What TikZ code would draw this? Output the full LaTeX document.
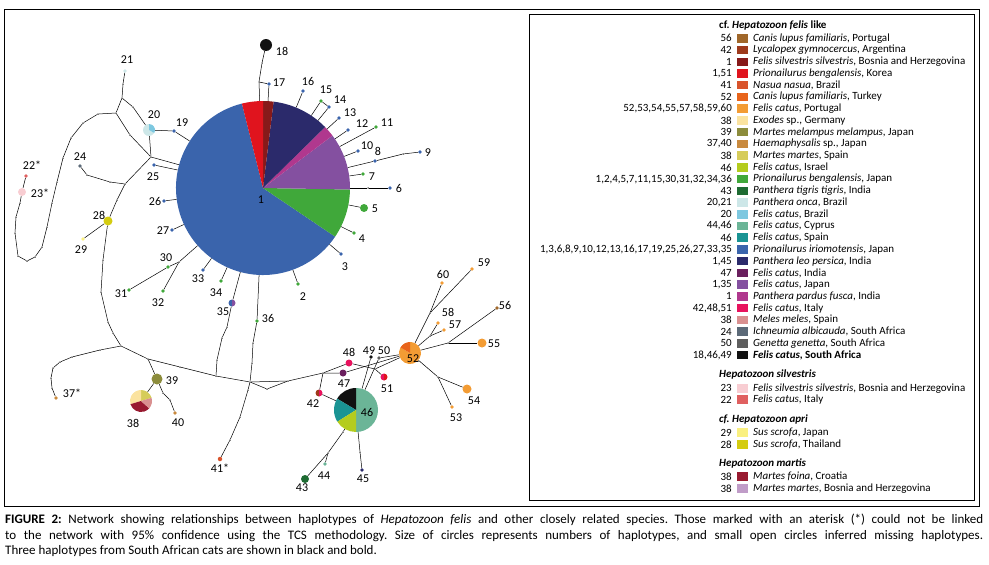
\documentclass[tikz,border=0pt]{standalone}
\usepackage{fontspec}
\setmainfont{Carlito}
\frenchspacing
% colours of the legend
\definecolor{cCanisPt}{HTML}{A0672A}
\definecolor{cLycalopex}{HTML}{9E3A1C}
\definecolor{cFssBos}{HTML}{871A1A}
\definecolor{cPbKorea}{HTML}{E0141E}
\definecolor{cNasua}{HTML}{D9542C}
\definecolor{cCanisTr}{HTML}{E8641B}
\definecolor{cFcPt}{HTML}{F39C34}
\definecolor{cExodes}{HTML}{FBE3A0}
\definecolor{cMelampus}{HTML}{8C8C3C}
\definecolor{cHaema}{HTML}{C98A3E}
\definecolor{cMmSp}{HTML}{D6CC5A}
\definecolor{cFcIsr}{HTML}{B4CC1E}
\definecolor{cPbJp}{HTML}{40A83A}
\definecolor{cTigris}{HTML}{1E6B32}
\definecolor{cOnca}{HTML}{CDE7E8}
\definecolor{cFcBr}{HTML}{7DC8E0}
\definecolor{cFcCy}{HTML}{6BB597}
\definecolor{cFcEs}{HTML}{1A9494}
\definecolor{cIriomot}{HTML}{3A64AC}
\definecolor{cLeo}{HTML}{2B2A6B}
\definecolor{cFcIn}{HTML}{6A1F5E}
\definecolor{cFcJp}{HTML}{8450A0}
\definecolor{cPardus}{HTML}{B0388E}
\definecolor{cFcIt}{HTML}{E8135E}
\definecolor{cMeles}{HTML}{D99090}
\definecolor{cIchneumia}{HTML}{5C6A78}
\definecolor{cGenetta}{HTML}{5E5E5E}
\definecolor{cFcSA}{HTML}{111111}
\definecolor{cFssBosB}{HTML}{F8CDD2}
\definecolor{cFcItB}{HTML}{E06060}
\definecolor{cSusJp}{HTML}{FAF080}
\definecolor{cSusTh}{HTML}{D4CC10}
\definecolor{cFoina}{HTML}{981A30}
\definecolor{cMmBos}{HTML}{C09CC8}
% one slice of a pie: centre node, radius, from, to (degrees), colour
\newcommand{\pieslice}[5]{%
  \fill[#5] (#1.center) -- ++({-(#3)}:#2) arc[start angle={-(#3)}, end angle={-(#4)}, radius=#2] -- cycle;}
\begin{document}
\begin{tikzpicture}[x=1pt, y=-1pt,
    hap/.style={circle, inner sep=0pt, minimum size=3.6pt},
    pie/.style={circle, inner sep=0pt},
    miss/.style={circle, fill=black, inner sep=0pt, minimum size=1.5pt},
    num/.style={inner sep=0pt, font=\fontsize{12}{12}\selectfont},
    link/.style={draw=black, line width=0.5pt},
    key/.style={inner sep=0pt, minimum width=11pt, minimum height=8.5pt},
    keytext/.style={inner sep=0pt, anchor=west, font=\fontsize{11}{11}\selectfont},
    keynum/.style={inner sep=0pt, anchor=east, font=\fontsize{11}{11}\selectfont},
    keyhead/.style={inner sep=0pt, anchor=west, font=\fontsize{11}{11}\selectfont\bfseries},
    capline/.style={anchor=west, inner sep=0pt, font=\fontsize{13}{13}\selectfont}]
    \useasboundingbox (0,0) rectangle (989,565);
    % the frames
    \draw[line width=0.8pt] (4.7,9.3) rectangle (979,506);
    \draw[line width=0.8pt, fill=white] (529,14.3) rectangle (974,500.7);

    % the big pie of haplotype 1
    \node[pie, minimum size=174pt] (hap1) at (263,188) {};
    \pieslice{hap1}{87}{104}{326}{cIriomot}
    \pieslice{hap1}{87}{-34}{-1}{cPbJp}
    \pieslice{hap1}{87}{-1}{37}{cFcJp}
    \pieslice{hap1}{87}{37}{44.5}{cPardus}
    \pieslice{hap1}{87}{44.5}{83}{cLeo}
    \pieslice{hap1}{87}{83}{90}{cFssBos}
    \pieslice{hap1}{87}{90}{104}{cPbKorea}
    % the other pies
    \node[pie, minimum size=12pt] (hap20) at (149,130) {};
    \pieslice{hap20}{6}{90}{330}{cOnca}
    \pieslice{hap20}{6}{-30}{90}{cFcBr}
    \node[pie, minimum size=7pt] (hap35) at (232,303) {};
    \pieslice{hap35}{3.5}{90}{270}{cIriomot}
    \pieslice{hap35}{3.5}{-90}{90}{cFcJp}
    \node[pie, minimum size=22pt] (hap38) at (141,401) {};
    \pieslice{hap38}{11}{17}{90}{cMmSp}
    \pieslice{hap38}{11}{90}{197}{cExodes}
    \pieslice{hap38}{11}{197}{318}{cFoina}
    \pieslice{hap38}{11}{318}{377}{cMeles}
    \node[pie, minimum size=7pt] (hap42) at (319,393) {};
    \pieslice{hap42}{3.5}{90}{270}{cLycalopex}
    \pieslice{hap42}{3.5}{-90}{90}{cFcIt}
    \node[pie, minimum size=44pt] (hap46) at (356,410) {};
    \pieslice{hap46}{22}{-90}{90}{cFcCy}
    \pieslice{hap46}{22}{90}{149}{cFcSA}
    \pieslice{hap46}{22}{149}{212}{cFcEs}
    \pieslice{hap46}{22}{212}{270}{cFcIsr}
    \node[pie, minimum size=7pt] (hap51) at (384,377) {};
    \pieslice{hap51}{3.5}{90}{270}{cFcIt}
    \pieslice{hap51}{3.5}{-90}{90}{cPbKorea}
    \node[pie, minimum size=22pt] (hap52) at (410,353) {};
    \pieslice{hap52}{11}{150}{450}{cFcPt}
    \pieslice{hap52}{11}{90}{150}{cCanisTr}

    % the single haplotypes
    \node[hap, fill=cPbJp] (hap2) at (298,284) {};
    \node[hap, fill=cIriomot] (hap3) at (341,254) {};
    \node[hap, fill=cPbJp] (hap4) at (354,233) {};
    \node[hap, fill=cPbJp, minimum size=8pt] (hap5) at (364,208) {};
    \node[hap, fill=cIriomot] (hap6) at (390,188) {};
    \node[hap, fill=cPbJp] (hap7) at (363,174) {};
    \node[hap, fill=cIriomot] (hap8) at (375,161) {};
    \node[hap, fill=cIriomot] (hap9) at (420,152) {};
    \node[hap, fill=cIriomot] (hap10) at (358,151) {};
    \node[hap, fill=cPbJp] (hap11) at (376,127) {};
    \node[hap, fill=cIriomot] (hap12) at (348,130) {};
    \node[hap, fill=cIriomot] (hap13) at (339,118) {};
    \node[hap, fill=cIriomot] (hap14) at (329,107) {};
    \node[hap, fill=cPbJp] (hap15) at (321,101) {};
    \node[hap, fill=cIriomot] (hap16) at (303,91) {};
    \node[hap, fill=cIriomot] (hap17) at (269,84) {};
    \node[hap, fill=cFcSA, minimum size=12pt] (hap18) at (266,45) {};
    \node[hap, fill=cIriomot] (hap19) at (174,131) {};
    \node[hap, fill=cOnca] (hap21) at (125,71) {};
    \node[hap, fill=cFcItB] (hap22) at (26,176) {};
    \node[hap, fill=cFssBosB, minimum size=8pt] (hap23) at (22,192) {};
    \node[hap, fill=cIchneumia] (hap24) at (80,166) {};
    \node[hap, fill=cIriomot] (hap25) at (154,165) {};
    \node[hap, fill=cIriomot] (hap26) at (164,201) {};
    \node[hap, fill=cIriomot] (hap27) at (172,230) {};
    \node[hap, fill=cSusTh, minimum size=9pt] (hap28) at (108,221) {};
    \node[hap, fill=cSusJp] (hap29) at (83,239) {};
    \node[hap, fill=cPbJp] (hap30) at (168,267) {};
    \node[hap, fill=cPbJp] (hap31) at (129,290) {};
    \node[hap, fill=cPbJp] (hap32) at (163,291) {};
    \node[hap, fill=cIriomot] (hap33) at (203,270) {};
    \node[hap, fill=cPbJp] (hap34) at (221,281) {};
    \node[hap, fill=cPbJp] (hap36) at (257,321) {};
    \node[hap, fill=cHaema] (hap37) at (56,398) {};
    \node[hap, fill=cMelampus, minimum size=11pt] (hap39) at (157,379) {};
    \node[hap, fill=cHaema] (hap40) at (175,413) {};
    \node[hap, fill=cNasua, minimum size=4.5pt] (hap41) at (220,459) {};
    \node[hap, fill=cTigris, minimum size=8pt] (hap43) at (305,479) {};
    \node[hap, fill=cFcCy] (hap44) at (325,464) {};
    \node[hap, fill=cLeo] (hap45) at (362,470) {};
    \node[hap, fill=cFcIn, minimum size=7pt] (hap47) at (343,373) {};
    \node[hap, fill=cFcIt, minimum size=7pt] (hap48) at (349,363) {};
    \node[hap, fill=cFcSA] (hap49) at (371,357) {};
    \node[hap, fill=cGenetta] (hap50) at (379,358) {};
    \node[hap, fill=cFcPt] (hap53) at (452,407) {};
    \node[hap, fill=cFcPt, minimum size=9pt] (hap54) at (467,389) {};
    \node[hap, fill=cFcPt, minimum size=9pt] (hap55) at (482,343) {};
    \node[hap, fill=cCanisPt] (hap56) at (497,308) {};
    \node[hap, fill=cFcPt] (hap57) at (444,330) {};
    \node[hap, fill=cFcPt] (hap58) at (438,323) {};
    \node[hap, fill=cFcPt] (hap59) at (472,269) {};
    \node[hap, fill=cFcPt] (hap60) at (442,283) {};

    % the missing haplotypes (junctions and steps)
    \foreach \n/\x/\y in {m1/123/84, j1/122/98, j2/116/113, m2/133/107,
        m3/98/114, m4/83/123, m5/71/138, m6/63/158, m7/57/182, m8/52/203,
        m9/47/227, m10/42/247, m11/35/257, m12/27/261, m13/18/256,
        m14/15/233, m15/16/217, m16/20/203,
        m17/130/135, j3/151/157, j4/125/184, m18/110/182, m19/87/175,
        m20/117/200, m21/103/260, m22/101/292, m23/108/322, m24/113/333,
        j5/121/346, m25/100/350, m26/72/357, m27/60/362, m28/53/368,
        m29/51/378, m30/52/388, j6/148/359, m31/163/393, m32/170/400,
        m33/180/367, j7/216/376, j8/250/382, m34/267/389, j10/288/381,
        j9/323/373, m35/227/327, m36/222/338, m37/217/360, m38/253/343,
        m39/252/363, m40/248/390, m41/240/417, m42/230/440,
        m43/262/63, j18/259/82, j30/179/262, m44/403/154, m45/368/188,
        m46/343/432, j12/328/453, m47/360/452, j11/375/369,
        j13/430/313, j14/430/336, j15/448/343, j16/438/377}
      \node[miss] (\n) at (\x,\y) {};

    % draw the links
    \draw[link] (hap21) -- (m1) -- (j1) -- (j2) -- (m3) -- (m4) -- (m5) -- (m6)
      -- (m7) -- (m8) -- (m9) -- (m10) -- (m11) -- (m12) -- (m13) -- (m14)
      -- (m15) -- (m16) -- (hap23) -- (hap22);
    \draw[link] (j1) -- (m2) -- (hap20) -- (j3);
    \draw[link] (j2) -- (m17) -- (j3) -- (hap1);
    \draw[link] (hap20) -- (hap19) -- (hap1);
    \draw[link] (j3) -- (j4) -- (m18) -- (m19) -- (hap24);
    \draw[link] (j4) -- (m20) -- (hap28) -- (hap29);
    \draw[link] (hap28) -- (m21) -- (m22) -- (m23) -- (m24) -- (j5) -- (m25)
      -- (m26) -- (m27) -- (m28) -- (m29) -- (m30) -- (hap37);
    \draw[link] (j5) -- (j6) -- (hap39) -- (hap38);
    \draw[link] (hap39) -- (m31) -- (m32) -- (hap40);
    \draw[link] (j6) -- (m33) -- (j7) -- (j8) -- (j10) -- (j9);
    \draw[link] (j8) -- (m34) -- (j10);
    \draw[link] (j8) -- (m40) -- (m41) -- (m42) -- (hap41);
    \draw[link] (hap1) -- (hap35) -- (m35) -- (m36) -- (m37) -- (j7);
    \draw[link] (hap1) -- (hap36) -- (m38) -- (m39) -- (j8);
    \draw[link] (hap1) -- (j30) -- (hap30) -- (hap31);
    \draw[link] (j30) -- (hap32);
    \foreach \h in {25,26,27,33,34,2,3,4,5,7,10,11,12,13,16}
      \draw[link] (hap\h) -- (hap1);
    \draw[link] (hap1) -- (m45) -- (hap6);
    \draw[link] (hap1) -- (hap8) -- (m44) -- (hap9);
    \draw[link] (hap1) -- (hap15) -- (hap14) -- (hap1);
    \draw[link] (hap1) -- (hap17) -- (j18) -- (m43) -- (hap18);
    \draw[link] (j18) -- (hap1);
    \draw[link] (j9) -- (hap47) -- (hap52);
    \draw[link] (j9) -- (hap48) -- (j11) -- (hap51);
    \draw[link] (j11) -- (hap52);
    \draw[link] (j9) -- (hap42) -- (hap46);
    \draw[link] (hap46) -- (hap49);
    \draw[link] (hap46) -- (hap50) -- (hap52);
    \draw[link] (hap46) -- (m46) -- (j12) -- (hap43);
    \draw[link] (j12) -- (hap44);
    \draw[link] (hap46) -- (m47) -- (hap45);
    \draw[link] (hap52) -- (j13) -- (hap60);
    \draw[link] (j13) -- (hap59);
    \draw[link] (hap52) -- (j14) -- (hap58);
    \draw[link] (j14) -- (hap57);
    \draw[link] (hap52) -- (j15) -- (hap56);
    \draw[link] (j15) -- (hap55);
    \draw[link] (hap52) -- (j16) -- (hap53);
    \draw[link] (j16) -- (hap54);

    % the numbers of the haplotypes
    \foreach \n/\t/\x/\y in {1/1/261/200, 2/2/303/297, 3/3/345/267, 4/4/362/239,
        5/5/375/209, 6/6/399/188, 7/7/372/177, 8/8/378/151, 9/9/428/153,
        10/10/367/146, 11/11/387/123, 12/12/362/124, 13/13/350/113,
        14/14/340/100, 15/15/326/90, 16/16/308/81, 17/17/279/83,
        18/18/282/51, 19/19/182/123, 20/20/154/115, 21/21/127/60,
        22/22*/32/165, 23/23*/40/193, 24/24/80/157, 25/25/153/177,
        26/26/155/201, 27/27/163/231, 28/28/99/215, 29/29/81/250,
        30/30/166/258, 31/31/121/294, 32/32/158/303, 33/33/198/279,
        34/34/216/293, 35/35/223/312, 36/36/268/318, 37/37*/72/393,
        38/38/133/423, 39/39/172/381, 40/40/178/423, 41/41*/220/468,
        42/42/313/404, 43/43/302/488, 44/44/324/476, 45/45/363/479,
        46/46/367/412, 47/47/344/384, 48/48/349/352, 49/49/369/351,
        50/50/384/351, 51/51/387/389, 52/52/413/359, 53/53/456/418,
        54/54/474/401, 55/55/494/344, 56/56/505/305, 57/57/455/325,
        58/58/448/312, 59/59/484/263, 60/60/443/274}
      \node[num] (lab\n) at (\x,\y) {\t};

    % the legend
    \node[keyhead] (head1) at (719,26) {cf. \textit{Hepatozoon felis} like};
    \foreach \k/\c/\t [count=\i from 0] in {
        56/cCanisPt/{\textit{Canis lupus familiaris}, Portugal},
        42/cLycalopex/{\textit{Lycalopex gymnocercus}, Argentina},
        1/cFssBos/{\textit{Felis silvestris silvestris}, Bosnia and Herzegovina},
        {1,51}/cPbKorea/{\textit{Prionailurus bengalensis}, Korea},
        41/cNasua/{\textit{Nasua nasua}, Brazil},
        52/cCanisTr/{\textit{Canis lupus familiaris}, Turkey},
        {52,53,54,55,57,58,59,60}/cFcPt/{\textit{Felis catus}, Portugal},
        38/cExodes/{\textit{Exodes} sp., Germany},
        39/cMelampus/{\textit{Martes melampus melampus}, Japan},
        {37,40}/cHaema/{\textit{Haemaphysalis} sp., Japan},
        38/cMmSp/{\textit{Martes martes}, Spain},
        46/cFcIsr/{\textit{Felis catus}, Israel},
        {1,2,4,5,7,11,15,30,31,32,34,36}/cPbJp/{\textit{Prionailurus bengalensis}, Japan},
        43/cTigris/{\textit{Panthera tigris tigris}, India},
        {20,21}/cOnca/{\textit{Panthera onca}, Brazil},
        20/cFcBr/{\textit{Felis catus}, Brazil},
        {44,46}/cFcCy/{\textit{Felis catus}, Cyprus},
        46/cFcEs/{\textit{Felis catus}, Spain},
        {1,3,6,8,9,10,12,13,16,17,19,25,26,27,33,35}/cIriomot/{\textit{Prionailurus iriomotensis}, Japan},
        {1,45}/cLeo/{\textit{Panthera leo persica}, India},
        47/cFcIn/{\textit{Felis catus}, India},
        {1,35}/cFcJp/{\textit{Felis catus}, Japan},
        1/cPardus/{\textit{Panthera pardus fusca}, India},
        {42,48,51}/cFcIt/{\textit{Felis catus}, Italy},
        38/cMeles/{\textit{Meles meles}, Spain},
        24/cIchneumia/{\textit{Ichneumia albicauda}, South Africa},
        50/cGenetta/{\textit{Genetta genetta}, South Africa},
        {18,46,49}/cFcSA/{\textbf{\textit{Felis catus}, South Africa}}} {
      \node[keynum] (knum\i) at (732,38.3+11.73*\i) {\k};
      \node[key, fill=\c] (key\i) at (742.5,38.3+11.73*\i) {};
      \node[keytext] (ktext\i) at (753,38.3+11.73*\i) {\t};
    }
    \node[keyhead] (head2) at (719,374.3) {\textit{Hepatozoon silvestris}};
    \node[keyhead] (head3) at (719,419.3) {\textit{cf. Hepatozoon apri}};
    \node[keyhead] (head4) at (719,463.3) {\textit{Hepatozoon martis}};
    \foreach \k/\c/\t/\y [count=\i from 28] in {
        23/cFssBosB/{\textit{Felis silvestris silvestris}, Bosnia and Herzegovina}/388.3,
        22/cFcItB/{\textit{Felis catus}, Italy}/399.7,
        29/cSusJp/{\textit{Sus scrofa}, Japan}/432.7,
        28/cSusTh/{\textit{Sus scrofa}, Thailand}/444.3,
        38/cFoina/{\textit{Martes foina}, Croatia}/476.7,
        38/cMmBos/{\textit{Martes martes}, Bosnia and Herzegovina}/488.7} {
      \node[keynum] (knum\i) at (732,\y) {\k};
      \node[key, fill=\c] (key\i) at (742.5,\y) {};
      \node[keytext] (ktext\i) at (753,\y) {\t};
    }

    % the caption
    \node[capline] (cap1) at (5,520)
      {\makebox[978pt][s]{\textbf{FIGURE 2:} Network showing relationships between haplotypes of \textit{Hepatozoon felis} and other closely related species. Those marked with an aterisk (*) could not be linked}};
    \node[capline] (cap2) at (5,536)
      {\makebox[978pt][s]{to the network with 95\% confidence using the TCS methodology. Size of circles represents numbers of haplotypes, and small open circles inferred missing haplotypes.}};
    \node[capline] (cap3) at (5,551)
      {Three haplotypes from South African cats are shown in black and bold.};
\end{tikzpicture}
\end{document}
